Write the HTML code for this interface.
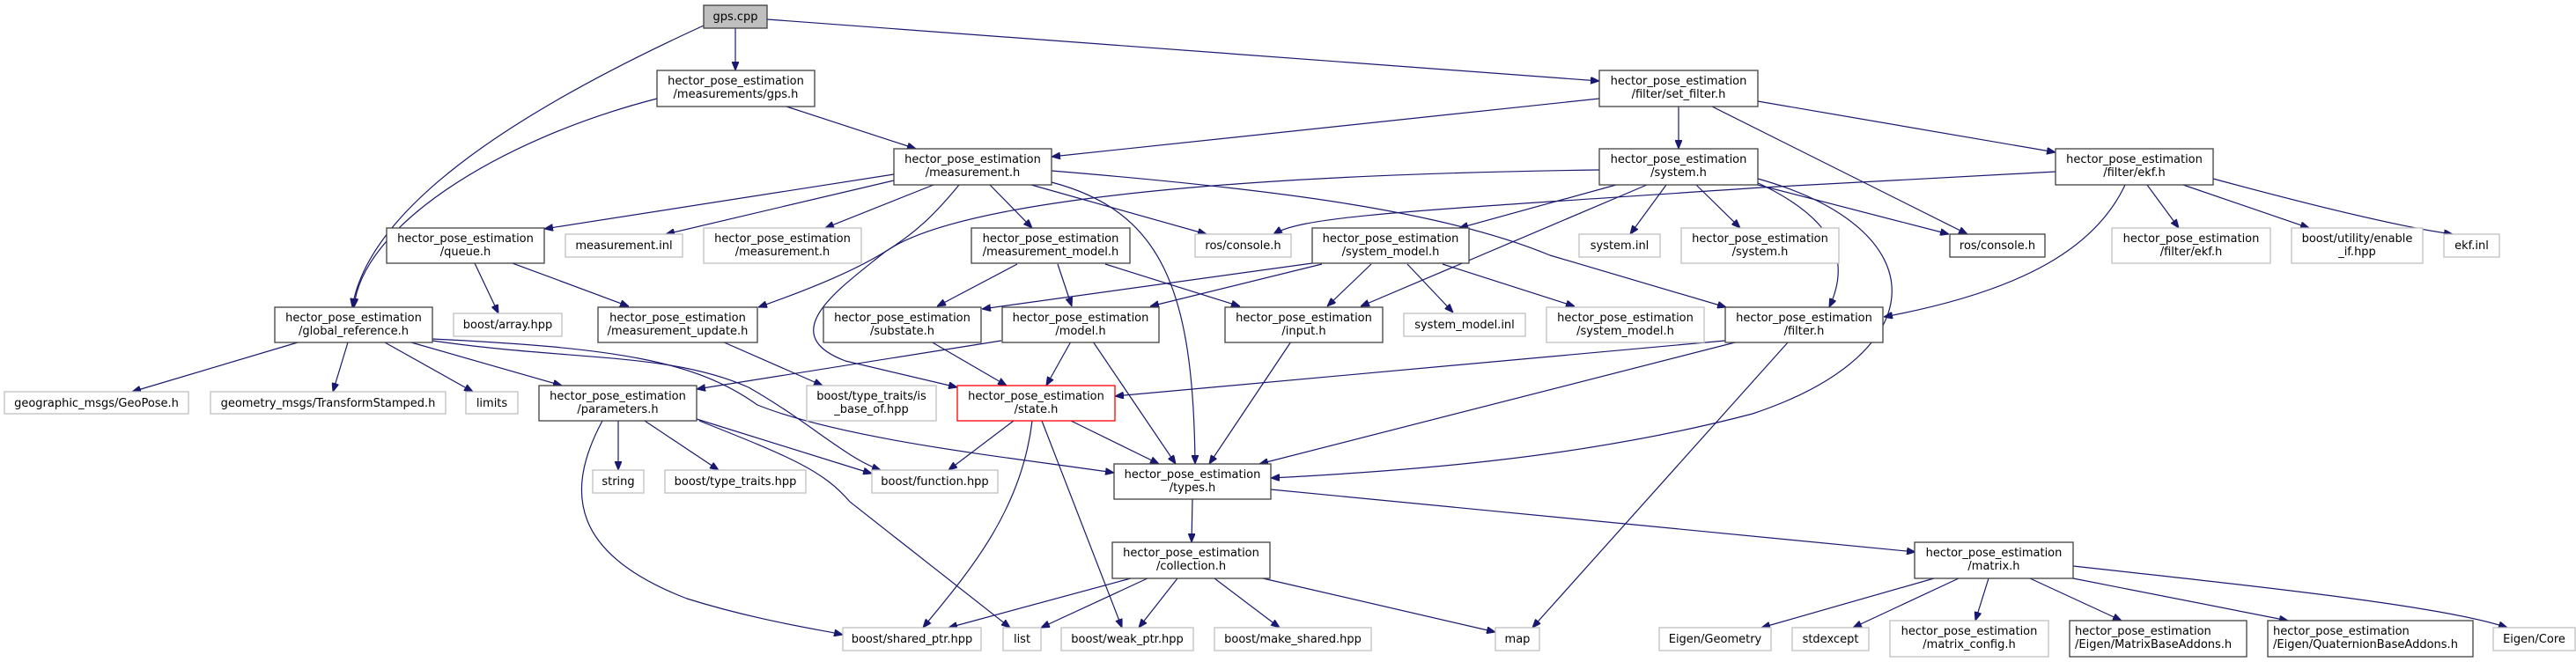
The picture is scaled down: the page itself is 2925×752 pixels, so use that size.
<!DOCTYPE html>
<html><head><meta charset="utf-8"><style>
html,body{margin:0;padding:0;background:#fff;}
svg{display:block;}
text{font-family:"DejaVu Sans","Liberation Sans",sans-serif;font-size:13px;fill:#000;}
.b{fill:#fff;stroke:#404040;stroke-width:1.3;}
.g{fill:#fff;stroke:#bfbfbf;stroke-width:1.3;}
.e{fill:none;stroke:#191970;stroke-width:1.2;marker-end:url(#a);}
</style></head><body>
<svg width="2925" height="752" viewBox="0 0 2925 752" xmlns="http://www.w3.org/2000/svg">
<defs><marker id="a" viewBox="0 0 10 8" refX="10" refY="4" markerWidth="10" markerHeight="8" markerUnits="userSpaceOnUse" orient="auto"><path d="M0,0 L10,4 L0,8 z" fill="#191970" stroke="#191970"/></marker></defs>
<g>
<path class="e" d="M835 32 L835 80"/>
<path class="e" d="M799 29 C600 120 420 230 400 349"/>
<path class="e" d="M871 22 L1816 92"/>
<path class="e" d="M893 121 L1040 169"/>
<path class="e" d="M746 112 C560 160 410 260 402 349"/>
<path class="e" d="M1816 112 L1194 178"/>
<path class="e" d="M1906 121 L1906 169"/>
<path class="e" d="M1944 121 L2234 266"/>
<path class="e" d="M1996 115 L2334 173"/>
<path class="e" d="M1015 198 L618 260"/>
<path class="e" d="M1015 205 L756 266"/>
<path class="e" d="M1060 210 L937 259"/>
<path class="e" d="M1089 210 C1040 270 1000 300 861 349"/>
<path class="e" d="M1816 193 C1300 200 1060 240 1000 290 C950 330 880 380 960 410 L1087 440"/>
<path class="e" d="M1124 210 L1172 259"/>
<path class="e" d="M1171 210 L1370 266"/>
<path class="e" d="M1194 207 C1320 240 1355 330 1357 527"/>
<path class="e" d="M1194 194 C1450 215 1640 240 1760 290 L1960 349"/>
<path class="e" d="M2334 195 L2000 213 C1600 240 1480 245 1446 266"/>
<path class="e" d="M1996 210 L2213 266"/>
<path class="e" d="M1835 210 L1657 259"/>
<path class="e" d="M1870 210 L1545 348"/>
<path class="e" d="M1892 210 L1851 266"/>
<path class="e" d="M1926 210 L1976 259"/>
<path class="e" d="M1990 205 C2090 250 2100 300 2077 349"/>
<path class="e" d="M1996 203 C2200 260 2200 400 1990 470 C1800 520 1600 535 1443 543"/>
<path class="e" d="M2413 210 C2380 280 2300 330 2139 360"/>
<path class="e" d="M2438 210 L2474 259"/>
<path class="e" d="M2479 210 L2622 259"/>
<path class="e" d="M2513 203 C2650 240 2740 260 2785 266"/>
<path class="e" d="M1490 299 L1115 351"/>
<path class="e" d="M1501 300 L1306 348"/>
<path class="e" d="M1557 300 L1507 348"/>
<path class="e" d="M1598 300 L1650 355"/>
<path class="e" d="M1638 300 L1788 348"/>
<path class="e" d="M1155 300 L1064 348"/>
<path class="e" d="M1201 300 L1217 348"/>
<path class="e" d="M1255 300 L1408 348"/>
<path class="e" d="M539 299 L566 356"/>
<path class="e" d="M582 299 L714 348"/>
<path class="e" d="M338 389 L150 445"/>
<path class="e" d="M395 389 L378 445"/>
<path class="e" d="M437 389 L537 445"/>
<path class="e" d="M467 389 L638 438"/>
<path class="e" d="M491 387 C650 410 760 400 850 440 C920 480 960 520 1000 534"/>
<path class="e" d="M491 385 C700 395 790 410 860 460 C960 500 1150 520 1265 537"/>
<path class="e" d="M820 388 L934 438"/>
<path class="e" d="M1057 388 L1143 438"/>
<path class="e" d="M1216 388 L1188 438"/>
<path class="e" d="M1241 388 L1335 527"/>
<path class="e" d="M1137 387 L791 442"/>
<path class="e" d="M1466 388 L1373 527"/>
<path class="e" d="M1959 387 L1266 450"/>
<path class="e" d="M1974 388 L1430 527"/>
<path class="e" d="M2030 389 L1740 713"/>
<path class="e" d="M1151 478 L1077 534"/>
<path class="e" d="M1216 478 L1316 527"/>
<path class="e" d="M1172 478 C1160 580 1100 650 1048 713"/>
<path class="e" d="M1183 478 L1274 713"/>
<path class="e" d="M702 478 L702 534"/>
<path class="e" d="M732 478 L816 534"/>
<path class="e" d="M684 478 C640 560 650 630 780 680 C860 705 930 715 957 721"/>
<path class="e" d="M791 476 L990 538"/>
<path class="e" d="M794 478 C900 520 935 535 965 570 L1147 713"/>
<path class="e" d="M1354 567 L1353 616"/>
<path class="e" d="M1443 556 L2175 627"/>
<path class="e" d="M1284 657 L1077 713"/>
<path class="e" d="M1303 657 L1182 713"/>
<path class="e" d="M1337 657 L1293 713"/>
<path class="e" d="M1379 657 L1453 713"/>
<path class="e" d="M1434 657 L1698 718"/>
<path class="e" d="M2196 657 L2000 713"/>
<path class="e" d="M2224 657 L2104 713"/>
<path class="e" d="M2258 657 L2243 705"/>
<path class="e" d="M2305 657 L2409 705"/>
<path class="e" d="M2354 657 L2598 705"/>
<path class="e" d="M2354 643 C2600 670 2780 690 2847 713"/>
</g>
<g>
<rect x="799" y="6" width="72" height="26" fill="#bfbfbf" stroke="#404040" stroke-width="1.3"/><text x="835" y="23" text-anchor="middle">gps.cpp</text>
<rect class="b" x="746" y="80" width="179" height="41"/><text x="835.5" y="96" text-anchor="middle">hector_pose_estimation</text><text x="835.5" y="111" text-anchor="middle">/measurements/gps.h</text>
<rect class="b" x="1816" y="80" width="180" height="41"/><text x="1906" y="96" text-anchor="middle">hector_pose_estimation</text><text x="1906" y="111" text-anchor="middle">/filter/set_filter.h</text>
<rect class="b" x="1015" y="169" width="179" height="41"/><text x="1104.5" y="185" text-anchor="middle">hector_pose_estimation</text><text x="1104.5" y="200" text-anchor="middle">/measurement.h</text>
<rect class="b" x="1816" y="169" width="180" height="41"/><text x="1906" y="185" text-anchor="middle">hector_pose_estimation</text><text x="1906" y="200" text-anchor="middle">/system.h</text>
<rect class="b" x="2334" y="169" width="179" height="41"/><text x="2423.5" y="185" text-anchor="middle">hector_pose_estimation</text><text x="2423.5" y="200" text-anchor="middle">/filter/ekf.h</text>
<rect class="b" x="439" y="259" width="179" height="40"/><text x="528.5" y="275" text-anchor="middle">hector_pose_estimation</text><text x="528.5" y="290" text-anchor="middle">/queue.h</text>
<rect class="g" x="642" y="266" width="133" height="26"/><text x="708.5" y="283" text-anchor="middle">measurement.inl</text>
<rect class="g" x="799" y="259" width="179" height="40"/><text x="888.5" y="275" text-anchor="middle">hector_pose_estimation</text><text x="888.5" y="290" text-anchor="middle">/measurement.h</text>
<rect class="b" x="1103" y="259" width="180" height="40"/><text x="1193" y="275" text-anchor="middle">hector_pose_estimation</text><text x="1193" y="290" text-anchor="middle">/measurement_model.h</text>
<rect class="g" x="1357" y="266" width="109" height="26"/><text x="1411.5" y="283" text-anchor="middle">ros/console.h</text>
<rect class="b" x="1490" y="259" width="178" height="40"/><text x="1579" y="275" text-anchor="middle">hector_pose_estimation</text><text x="1579" y="290" text-anchor="middle">/system_model.h</text>
<rect class="g" x="1793" y="266" width="92" height="26"/><text x="1839" y="283" text-anchor="middle">system.inl</text>
<rect class="g" x="1909" y="259" width="179" height="40"/><text x="1998.5" y="275" text-anchor="middle">hector_pose_estimation</text><text x="1998.5" y="290" text-anchor="middle">/system.h</text>
<rect class="b" x="2214" y="266" width="108" height="26"/><text x="2268" y="283" text-anchor="middle">ros/console.h</text>
<rect class="g" x="2398" y="259" width="180" height="40"/><text x="2488" y="275" text-anchor="middle">hector_pose_estimation</text><text x="2488" y="290" text-anchor="middle">/filter/ekf.h</text>
<rect class="g" x="2602" y="259" width="149" height="40"/><text x="2676.5" y="275" text-anchor="middle">boost/utility/enable</text><text x="2676.5" y="290" text-anchor="middle">_if.hpp</text>
<rect class="g" x="2775" y="266" width="63" height="26"/><text x="2806.5" y="283" text-anchor="middle">ekf.inl</text>
<rect class="b" x="312" y="349" width="179" height="40"/><text x="401.5" y="365" text-anchor="middle">hector_pose_estimation</text><text x="401.5" y="380" text-anchor="middle">/global_reference.h</text>
<rect class="g" x="515" y="356" width="123" height="26"/><text x="576.5" y="373" text-anchor="middle">boost/array.hpp</text>
<rect class="b" x="679" y="349" width="181" height="40"/><text x="769.5" y="365" text-anchor="middle">hector_pose_estimation</text><text x="769.5" y="380" text-anchor="middle">/measurement_update.h</text>
<rect class="b" x="935" y="349" width="179" height="40"/><text x="1024.5" y="365" text-anchor="middle">hector_pose_estimation</text><text x="1024.5" y="380" text-anchor="middle">/substate.h</text>
<rect class="b" x="1138" y="349" width="178" height="40"/><text x="1227" y="365" text-anchor="middle">hector_pose_estimation</text><text x="1227" y="380" text-anchor="middle">/model.h</text>
<rect class="b" x="1391" y="349" width="179" height="40"/><text x="1480.5" y="365" text-anchor="middle">hector_pose_estimation</text><text x="1480.5" y="380" text-anchor="middle">/input.h</text>
<rect class="g" x="1594" y="356" width="138" height="26"/><text x="1663" y="373" text-anchor="middle">system_model.inl</text>
<rect class="g" x="1756" y="349" width="179" height="40"/><text x="1845.5" y="365" text-anchor="middle">hector_pose_estimation</text><text x="1845.5" y="380" text-anchor="middle">/system_model.h</text>
<rect class="b" x="1959" y="349" width="179" height="40"/><text x="2048.5" y="365" text-anchor="middle">hector_pose_estimation</text><text x="2048.5" y="380" text-anchor="middle">/filter.h</text>
<rect class="g" x="5" y="445" width="209" height="25"/><text x="109.5" y="462" text-anchor="middle">geographic_msgs/GeoPose.h</text>
<rect class="g" x="239" y="445" width="267" height="25"/><text x="372.5" y="462" text-anchor="middle">geometry_msgs/TransformStamped.h</text>
<rect class="g" x="529" y="445" width="59" height="25"/><text x="558.5" y="462" text-anchor="middle">limits</text>
<rect class="b" x="612" y="438" width="179" height="40"/><text x="701.5" y="454" text-anchor="middle">hector_pose_estimation</text><text x="701.5" y="469" text-anchor="middle">/parameters.h</text>
<rect class="g" x="916" y="438" width="147" height="40"/><text x="989.5" y="454" text-anchor="middle">boost/type_traits/is</text><text x="989.5" y="469" text-anchor="middle">_base_of.hpp</text>
<rect x="1087" y="438" width="179" height="40" fill="#fff" stroke="#ff0000" stroke-width="1.3"/><text x="1176.5" y="454" text-anchor="middle">hector_pose_estimation</text><text x="1176.5" y="469" text-anchor="middle">/state.h</text>
<rect class="g" x="673" y="534" width="58" height="26"/><text x="702" y="551" text-anchor="middle">string</text>
<rect class="g" x="755" y="534" width="160" height="26"/><text x="835" y="551" text-anchor="middle">boost/type_traits.hpp</text>
<rect class="g" x="990" y="534" width="143" height="26"/><text x="1061.5" y="551" text-anchor="middle">boost/function.hpp</text>
<rect class="b" x="1265" y="527" width="178" height="40"/><text x="1354" y="543" text-anchor="middle">hector_pose_estimation</text><text x="1354" y="558" text-anchor="middle">/types.h</text>
<rect class="b" x="1263" y="616" width="179" height="41"/><text x="1352.5" y="632" text-anchor="middle">hector_pose_estimation</text><text x="1352.5" y="647" text-anchor="middle">/collection.h</text>
<rect class="b" x="2174" y="616" width="180" height="41"/><text x="2264" y="632" text-anchor="middle">hector_pose_estimation</text><text x="2264" y="647" text-anchor="middle">/matrix.h</text>
<rect class="g" x="957" y="713" width="157" height="26"/><text x="1035.5" y="730" text-anchor="middle">boost/shared_ptr.hpp</text>
<rect class="g" x="1139" y="713" width="43" height="26"/><text x="1160.5" y="730" text-anchor="middle">list</text>
<rect class="g" x="1205" y="713" width="150" height="26"/><text x="1280" y="730" text-anchor="middle">boost/weak_ptr.hpp</text>
<rect class="g" x="1379" y="713" width="178" height="26"/><text x="1468" y="730" text-anchor="middle">boost/make_shared.hpp</text>
<rect class="g" x="1698" y="713" width="50" height="26"/><text x="1723" y="730" text-anchor="middle">map</text>
<rect class="g" x="1884" y="713" width="127" height="26"/><text x="1947.5" y="730" text-anchor="middle">Eigen/Geometry</text>
<rect class="g" x="2035" y="713" width="87" height="26"/><text x="2078.5" y="730" text-anchor="middle">stdexcept</text>
<rect class="g" x="2146" y="705" width="180" height="41"/><text x="2236" y="721" text-anchor="middle">hector_pose_estimation</text><text x="2236" y="736" text-anchor="middle">/matrix_config.h</text>
<rect class="b" x="2350" y="705" width="201" height="41"/><text x="2356" y="721">hector_pose_estimation</text><text x="2356" y="736">/Eigen/MatrixBaseAddons.h</text>
<rect class="b" x="2575" y="705" width="233" height="41"/><text x="2581" y="721">hector_pose_estimation</text><text x="2581" y="736">/Eigen/QuaternionBaseAddons.h</text>
<rect class="g" x="2831" y="713" width="93" height="26"/><text x="2877.5" y="730" text-anchor="middle">Eigen/Core</text>
</g>
</svg>
</body></html>
